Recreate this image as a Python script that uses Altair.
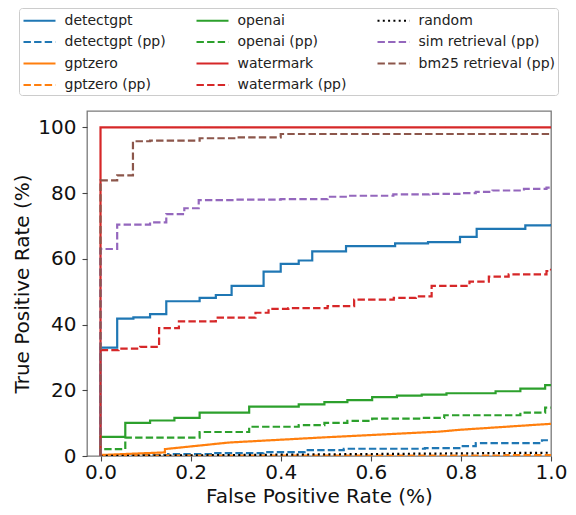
import altair as alt
import pandas as pd

# ---- data (fpr in fraction, tpr in %) ----
# step curves: corner points (x where the step happens, new y)
DETECTGPT_FPR = [0.0, 0.037, 0.073, 0.11, 0.146, 0.22, 0.256, 0.291, 0.362, 0.40, 0.44, 0.47, 0.545, 0.654, 0.727, 0.798, 0.835, 0.943, 1.0]
DETECTGPT_TPR = [33.0, 41.8, 42.2, 43.2, 47.1, 48.1, 49.0, 51.8, 56.1, 58.5, 59.5, 62.3, 63.9, 64.7, 65.1, 66.7, 69.1, 70.2, 70.6]

DETECTGPT_PP_FPR = [0.0, 0.15, 0.25, 0.362, 0.453, 0.54, 0.72, 0.80, 0.833, 0.98, 1.0]
DETECTGPT_PP_TPR = [0.3, 0.6, 0.9, 1.2, 1.8, 2.2, 2.4, 3.0, 3.9, 4.8, 4.8]

# gptzero is drawn with straight (sloped) segments
GPTZERO_FPR = [0.0, 0.0, 0.143, 0.143, 0.285, 0.50, 0.75, 0.80, 1.0]
GPTZERO_TPR = [0.0, 0.3, 1.1, 2.1, 4.1, 5.7, 7.4, 8.0, 9.8]

GPTZERO_PP_FPR = [0.0, 0.9, 1.0]
GPTZERO_PP_TPR = [0.1, 0.3, 0.5]

OPENAI_FPR = [0.0, 0.055, 0.11, 0.164, 0.22, 0.33, 0.44, 0.497, 0.548, 0.603, 0.658, 0.713, 0.768, 0.877, 0.932, 0.987, 1.0]
OPENAI_TPR = [5.8, 10.1, 10.8, 11.6, 13.2, 15.0, 15.7, 16.4, 17.0, 17.9, 18.4, 18.7, 19.1, 19.7, 20.5, 21.6, 21.6]

OPENAI_PP_FPR = [0.0, 0.055, 0.22, 0.33, 0.44, 0.497, 0.548, 0.603, 0.713, 0.763, 0.932, 0.987, 1.0]
OPENAI_PP_TPR = [2.1, 5.6, 7.3, 8.9, 9.4, 10.1, 10.7, 11.4, 11.6, 12.4, 13.2, 14.7, 14.7]

WATERMARK_FPR = [0.0, 1.0]
WATERMARK_TPR = [100.0, 100.0]

WATERMARK_PP_FPR = [0.0, 0.04, 0.088, 0.13, 0.174, 0.256, 0.344, 0.373, 0.417, 0.504, 0.563, 0.651, 0.70, 0.735, 0.819, 0.862, 0.906, 0.99, 1.0]
WATERMARK_PP_TPR = [32.2, 32.7, 33.2, 38.9, 41.0, 42.1, 43.6, 44.8, 45.0, 45.6, 47.6, 48.1, 48.6, 51.8, 53.1, 54.6, 55.3, 56.3, 57.0]

RANDOM_FPR = [0.0, 1.0]
RANDOM_TPR = [0.0, 1.0]

SIM_PP_FPR = [0.0, 0.037, 0.11, 0.146, 0.186, 0.218, 0.30, 0.40, 0.504, 0.55, 0.65, 0.73, 0.80, 0.833, 0.87, 0.94, 0.99, 1.0]
SIM_PP_TPR = [63.0, 70.4, 71.1, 73.6, 75.4, 77.9, 78.0, 78.2, 78.9, 79.2, 79.6, 79.8, 80.0, 80.4, 80.8, 81.3, 81.7, 81.7]

BM25_PP_FPR = [0.0, 0.037, 0.072, 0.11, 0.22, 0.30, 0.40, 1.0]
BM25_PP_TPR = [83.9, 85.4, 95.8, 96.0, 96.7, 97.0, 98.0, 98.3]

# plotting order == legend order (legend fills column by column)
SERIES = [
    ("detectgpt", DETECTGPT_FPR, DETECTGPT_TPR, True),
    ("detectgpt (pp)", DETECTGPT_PP_FPR, DETECTGPT_PP_TPR, True),
    ("gptzero", GPTZERO_FPR, GPTZERO_TPR, False),
    ("gptzero (pp)", GPTZERO_PP_FPR, GPTZERO_PP_TPR, True),
    ("openai", OPENAI_FPR, OPENAI_TPR, True),
    ("openai (pp)", OPENAI_PP_FPR, OPENAI_PP_TPR, True),
    ("watermark", WATERMARK_FPR, WATERMARK_TPR, True),
    ("watermark (pp)", WATERMARK_PP_FPR, WATERMARK_PP_TPR, True),
    ("random", RANDOM_FPR, RANDOM_TPR, False),
    ("sim retrieval (pp)", SIM_PP_FPR, SIM_PP_TPR, True),
    ("bm25 retrieval (pp)", BM25_PP_FPR, BM25_PP_TPR, True),
]
NAMES = [s[0] for s in SERIES]

COLORS = {
    "detectgpt": "#1f77b4", "detectgpt (pp)": "#1f77b4",
    "gptzero": "#ff7f0e", "gptzero (pp)": "#ff7f0e",
    "openai": "#2ca02c", "openai (pp)": "#2ca02c",
    "watermark": "#d62728", "watermark (pp)": "#d62728",
    "random": "#000000",
    "sim retrieval (pp)": "#9467bd", "bm25 retrieval (pp)": "#8c564b",
}
SOLID = [1, 0]
DASHED = [7.4, 3.2]
DOTTED = [2, 3.3]
DASHES = {s: (DOTTED if s == "random" else DASHED if "(pp)" in s else SOLID) for s in NAMES}

rows = []
for name, xs, ys, step in SERIES:
    pts = []
    if step:
        prev = 0.0
        pts.append((0.0, 0.0))
        for x, y in zip(xs, ys):
            pts.append((x, prev))
            pts.append((x, y))
            prev = y
    else:
        pts = list(zip(xs, ys))
    for i, (x, y) in enumerate(pts):
        rows.append({"series": name, "fpr": x, "tpr": y, "i": i})
df = pd.DataFrame(rows)

FONT = "DejaVu Sans"
legend = alt.Legend(
    title=None, orient="none", legendX=-68, legendY=-103, columns=3,
    symbolType="M-2,0H2", symbolSize=256, symbolStrokeWidth=2.2, symbolOffset=8,
    labelFontSize=14, labelFont=FONT, labelColor="#222", labelOffset=15.5,
    columnPadding=26, rowPadding=4.5, padding=3,
    strokeColor="#cccccc", fillColor="white", cornerRadius=3,
)

chart = alt.Chart(df).mark_line(strokeWidth=2.2, clip=True).encode(
    x=alt.X("fpr:Q",
            scale=alt.Scale(domain=[-0.03, 1.0], nice=False, zero=False),
            axis=alt.Axis(values=[0, 0.2, 0.4, 0.6, 0.8, 1.0], format=".1f",
                          labelFlush=False,
                          title="False Positive Rate (%)", titleY=46,
                          titleBaseline="alphabetic", labelPadding=1)),
    y=alt.Y("tpr:Q",
            scale=alt.Scale(domain=[0, 105], nice=False, zero=False),
            axis=alt.Axis(values=[0, 20, 40, 60, 80, 100], labelFlush=False,
                          title="True Positive Rate (%)", titleX=-55, titleY=172.5,
                          titleAngle=270, titleBaseline="bottom", labelPadding=6)),
    color=alt.Color("series:N", sort=NAMES,
                    scale=alt.Scale(domain=NAMES, range=[COLORS[s] for s in NAMES]),
                    legend=legend),
    strokeDash=alt.StrokeDash("series:N", sort=NAMES,
                              scale=alt.Scale(domain=NAMES, range=[DASHES[s] for s in NAMES]),
                              legend=legend),
    order=alt.Order("i:Q"),
).properties(
    width=464, height=345,
    autosize=alt.AutoSizeParams(type="none"),
    padding={"left": 79, "top": 103, "right": 17, "bottom": 51},
).configure_view(
    stroke="#7a7a7a", strokeWidth=1.3,
).configure_axis(
    grid=False, domain=False, ticks=True, tickSize=5, tickColor="#444", tickWidth=1.1,
    labelFont=FONT, labelFontSize=20, labelColor="#111",
    titleFont=FONT, titleFontSize=20, titleFontWeight="normal", titleColor="#111",
)

chart.save("out.html", embed_options={"renderer": "svg", "actions": False})
